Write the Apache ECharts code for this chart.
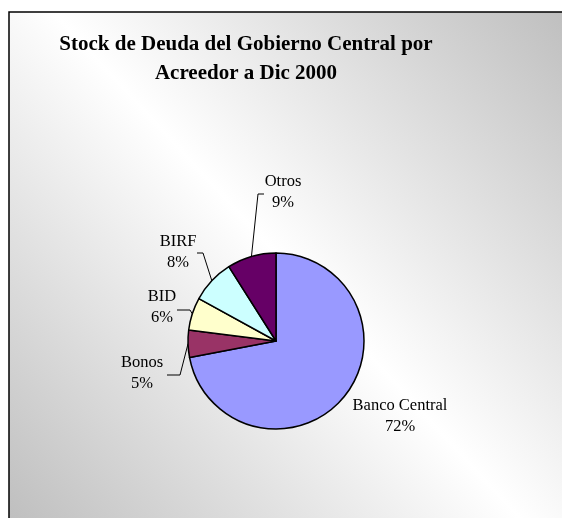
<!DOCTYPE html>
<html>
<head>
<meta charset="utf-8">
<script src="https://cdn.jsdelivr.net/npm/echarts@6/dist/echarts.min.js"></script>
<style>
  html, body { margin: 0; padding: 0; background: #fff; }
  #chart { width: 562px; height: 518px; }
</style>
</head>
<body>
<div id="chart"></div>
<script>
// data
var categories = ['Banco Central', 'Bonos', 'BID', 'BIRF', 'Otros']
var shares = [72, 5, 6, 8, 9]
var sliceColors = ['#9999FF', '#993366', '#FFFFCC', '#CCFFFF', '#660066']

// where Excel put each label (centre of text) and the leader bend / end
var labelSpots = {
  'Otros': { x: 283, y: 192, bend: [258, 194], end: [264, 194] },
  'BIRF': { x: 178, y: 252, bend: [203, 253], end: [197, 253] },
  'BID': { x: 162, y: 307, bend: [190, 310], end: [177, 310] },
  'Bonos': { x: 142, y: 373, bend: [180, 375], end: [167, 375] },
  'Banco Central': { x: 400, y: 416 }
}

var chart = echarts.init(document.getElementById('chart'))

var seriesData = categories.map(function (name, i) {
  return {
    name: name,
    value: shares[i],
    itemStyle: { color: sliceColors[i] },
    labelLine: { show: name !== 'Banco Central' }
  }
})

chart.setOption({
  animation: false,
  graphic: [{
    type: 'rect',
    z: -10,
    shape: { x: 9, y: 12, width: 700, height: 700 },
    style: {
      fill: new echarts.graphic.LinearGradient(562, 0, 0, 518, [
        { offset: 0, color: '#bebebe' },
        { offset: 0.5, color: '#ffffff' },
        { offset: 1, color: '#bebebe' }
      ], true),
      stroke: '#000',
      lineWidth: 1.5
    }
  }],
  title: {
    text: 'Stock de Deuda del Gobierno Central por\nAcreedor a Dic 2000',
    left: 241,
    top: 25,
    textAlign: 'center',
    textStyle: {
      fontFamily: 'Liberation Serif',
      fontWeight: 'bold',
      fontSize: 21,
      lineHeight: 29,
      color: '#000'
    }
  },
  series: [{
    type: 'pie',
    center: [276, 341],
    radius: 88,
    startAngle: 90,
    clockwise: true,
    data: seriesData,
    itemStyle: { borderColor: '#000', borderWidth: 1.5 },
    label: {
      show: true,
      position: 'outside',
      formatter: '{b}\n{d}%',
      fontFamily: 'Liberation Serif',
      fontSize: 16.5,
      lineHeight: 21,
      color: '#000'
    },
    labelLine: {
      show: true,
      length: 10,
      length2: 8,
      lineStyle: { color: '#000', width: 1 }
    },
    labelLayout: function (params) {
      var spot = labelSpots[categories[params.dataIndex]]
      var out = { x: spot.x, y: spot.y, align: 'center', verticalAlign: 'middle' }
      if (spot.bend && params.labelLinePoints) {
        out.labelLinePoints = [params.labelLinePoints[0], spot.bend, spot.end]
      }
      return out
    }
  }]
})
</script>
</body>
</html>
